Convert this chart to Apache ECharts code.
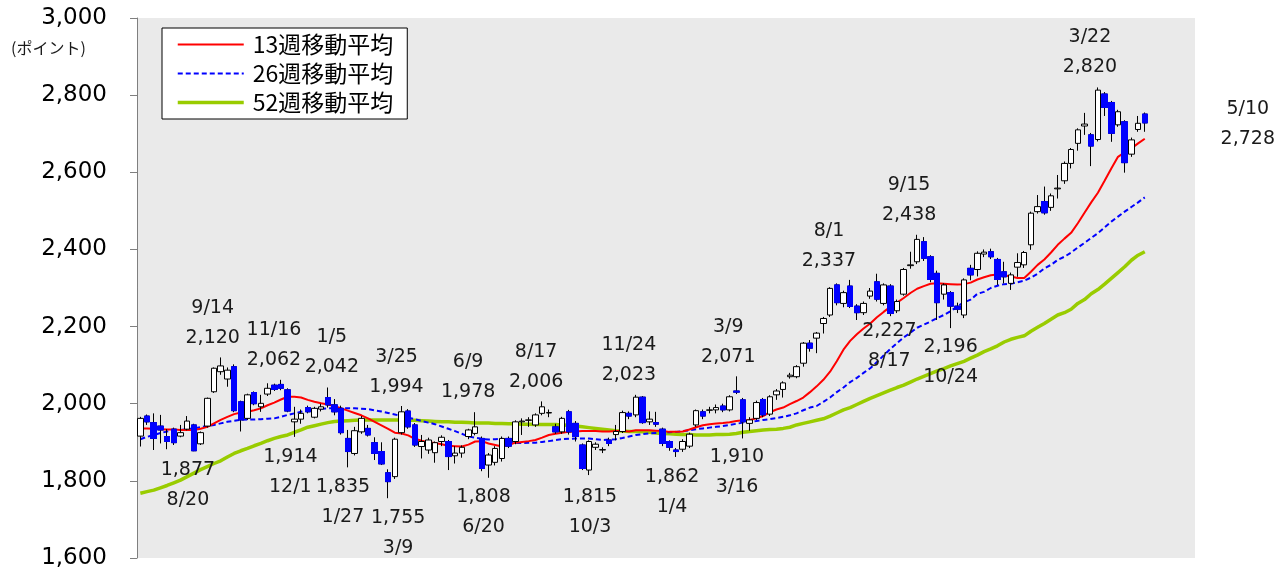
<!DOCTYPE html>
<html><head><meta charset="utf-8">
<script src="https://cdn.jsdelivr.net/npm/echarts@6/dist/echarts.min.js"></script>
<style>html,body{margin:0;padding:0;background:#fff}#c{width:1278px;height:570px}</style>
</head><body><div id="c"></div>
<script>
// ---- data (weekly, first week ending 2021/6/25) ----
const firstWeek = [2021, 6, 25];
const axisWeeks = 158; // category slots on the x axis (data fills the first 151)
const opens = [
1916,1968,1951,1942,1915,1934,1916,1934,1945,1896,
1942,2031,2083,2064,2096,2005,1962,2029,1992,2025,
2048,2050,2036,1953,1960,1990,1965,1986,2016,1997,
1988,1910,1871,1927,1936,1899,1876,1821,1811,1925,
1981,1945,1889,1880,1873,1902,1902,1865,1872,1915,
1923,1910,1841,1848,1858,1910,1902,1953,1957,1945,
1975,1976,1940,1927,1979,1949,1893,1828,1887,1880,
1906,1920,1928,1975,1971,2017,1953,1951,1934,1902,
1880,1882,1890,1945,1979,1983,1984,1994,1984,2033,
2010,1949,1962,2011,1973,2023,2037,2070,2070,2105,
2157,2170,2208,2230,2308,2260,2305,2253,2236,2279,
2316,2260,2305,2241,2284,2358,2368,2420,2381,2338,
2284,2288,2253,2230,2351,2348,2388,2394,2374,2342,
2312,2354,2360,2412,2498,2524,2509,2557,2578,2623,
2675,2720,2697,2685,2803,2781,2723,2731,2647,2711,
2751];
const closes = [
1962,1953,1910,1932,1902,1899,1925,1955,1878,1925,
2014,2092,2098,2087,1982,1958,2023,2000,2001,2040,
2037,2040,1981,1960,1975,1979,1988,1992,1997,1979,
1925,1876,1930,1962,1919,1871,1844,1798,1908,1979,
1940,1893,1902,1906,1899,1913,1863,1872,1887,1932,
1940,1832,1867,1884,1910,1890,1953,1955,1958,1971,
1992,1977,1927,1962,1927,1915,1832,1902,1895,1881,
1897,1928,1977,1968,2017,1951,1960,1947,1897,1887,
1876,1902,1921,1982,1968,1984,1990,1984,2018,2030,
1953,1958,2003,1971,2018,2033,2054,2074,2096,2157,
2144,2183,2221,2299,2262,2288,2252,2236,2260,2292,
2271,2308,2234,2265,2348,2360,2426,2377,2322,2262,
2308,2253,2245,2321,2334,2390,2393,2381,2322,2329,
2334,2366,2392,2494,2511,2495,2539,2559,2623,2659,
2710,2725,2668,2813,2768,2701,2757,2625,2684,2727,
2728];
const lows = [
1889,1945,1880,1897,1882,1893,1913,1931,1877,1893,
1938,2028,2075,2044,1978,1928,1958,1996,1979,2020,
2033,2035,1978,1914,1948,1975,1962,1980,1990,1970,
1920,1835,1866,1922,1915,1854,1841,1755,1805,1920,
1935,1888,1858,1870,1847,1890,1828,1845,1860,1908,
1918,1825,1808,1840,1850,1885,1895,1919,1940,1940,
1970,1965,1922,1922,1920,1902,1828,1815,1880,1872,
1890,1905,1924,1960,1965,1948,1945,1940,1890,1878,
1862,1875,1885,1940,1960,1975,1975,1978,1980,2025,
1910,1930,1958,1965,1968,2010,2016,2065,2066,2096,
2135,2131,2182,2225,2255,2250,2248,2217,2230,2272,
2265,2255,2227,2235,2280,2350,2362,2370,2315,2217,
2270,2196,2235,2222,2320,2330,2380,2375,2308,2312,
2295,2329,2352,2399,2493,2490,2500,2532,2570,2610,
2656,2697,2616,2680,2746,2679,2718,2599,2640,2705,
2705];
const highs = [
1966,1972,1975,1971,1934,1938,1945,1968,1948,1928,
2016,2094,2120,2094,2102,2008,2026,2032,2023,2053,
2052,2062,2040,1992,1985,1995,1992,2000,2042,2012,
1995,1932,1940,1968,1945,1913,1900,1830,1912,1994,
1986,1950,1919,1912,1902,1918,1906,1890,1892,1935,
1978,1915,1872,1890,1915,1915,1957,1962,1965,1975,
2006,1985,1948,1966,1984,1955,1897,1905,1900,1887,
1912,1945,1982,1980,2023,2020,1980,1979,1938,1905,
1885,1908,1925,1985,1985,1992,1998,2000,2022,2071,
2015,1965,2008,2015,2022,2038,2058,2080,2100,2160,
2165,2186,2225,2302,2312,2293,2321,2258,2265,2300,
2337,2312,2310,2270,2352,2394,2438,2432,2385,2345,
2312,2292,2262,2325,2360,2395,2400,2402,2378,2368,
2340,2390,2396,2498,2541,2563,2545,2593,2628,2663,
2714,2754,2702,2820,2808,2785,2762,2735,2690,2746,
2755];
const ma13 = [
1936,1936,1935,1934,1933,1933,1932,1932,1932,1935,
1940,1949,1958,1966,1973,1977,1979,1983,1988,1996,
2003,2011,2018,2018,2016,2010,2005,2001,1998,1994,
1988,1982,1976,1970,1962,1953,1944,1935,1925,1923,
1918,1909,1904,1900,1898,1895,1891,1890,1889,1894,
1902,1903,1897,1893,1889,1893,1899,1901,1903,1906,
1912,1919,1922,1925,1927,1928,1929,1929,1929,1928,
1928,1929,1929,1928,1931,1931,1931,1930,1929,1927,
1927,1928,1933,1939,1944,1947,1949,1950,1952,1955,
1957,1958,1962,1968,1978,1985,1990,1999,2007,2016,
2030,2045,2062,2083,2110,2140,2163,2180,2195,2208,
2224,2238,2251,2262,2274,2287,2298,2305,2311,2312,
2311,2310,2309,2310,2314,2322,2328,2333,2335,2333,
2330,2326,2326,2342,2360,2374,2392,2412,2428,2443,
2468,2495,2522,2547,2578,2610,2640,2652,2662,2675,
2687];
const ma26 = [
1908,1914,1919,1924,1928,1930,1932,1934,1936,1939,
1942,1945,1949,1953,1956,1958,1959,1959,1960,1961,
1962,1966,1971,1975,1979,1984,1986,1987,1988,1988,
1988,1988,1988,1987,1986,1983,1980,1976,1972,1968,
1964,1960,1955,1951,1947,1941,1935,1929,1922,1915,
1912,1909,1907,1908,1909,1904,1898,1898,1899,1899,
1901,1903,1906,1908,1909,1910,1910,1910,1908,1906,
1907,1908,1911,1915,1919,1921,1923,1924,1925,1926,
1927,1929,1931,1934,1936,1938,1940,1942,1945,1948,
1951,1953,1955,1958,1960,1963,1966,1970,1975,1983,
1990,1994,2005,2016,2030,2042,2056,2067,2080,2092,
2108,2125,2142,2157,2172,2184,2197,2205,2213,2222,
2230,2240,2252,2263,2270,2285,2290,2300,2306,2310,
2311,2315,2319,2327,2337,2351,2360,2373,2381,2392,
2405,2417,2430,2442,2457,2472,2485,2498,2510,2522,
2535];
const ma52 = [
1768,1772,1776,1782,1788,1795,1802,1811,1820,1829,
1837,1845,1852,1862,1871,1878,1884,1891,1897,1904,
1910,1915,1919,1926,1932,1939,1943,1947,1951,1954,
1955,1956,1957,1958,1958,1958,1958,1958,1958,1958,
1957,1957,1956,1955,1954,1953,1953,1952,1952,1951,
1950,1950,1950,1949,1949,1948,1948,1947,1947,1946,
1946,1946,1946,1945,1944,1942,1940,1938,1936,1934,
1932,1930,1929,1928,1928,1927,1926,1924,1923,1922,
1921,1920,1920,1919,1919,1919,1920,1920,1921,1923,
1926,1928,1930,1932,1933,1934,1936,1939,1945,1949,
1953,1957,1961,1968,1976,1984,1990,1998,2006,2014,
2021,2028,2035,2042,2048,2056,2064,2071,2078,2085,
2091,2098,2104,2110,2118,2126,2135,2142,2150,2160,
2167,2172,2176,2188,2198,2208,2219,2230,2236,2245,
2260,2270,2285,2296,2310,2325,2340,2355,2372,2385,
2394];
const maNames = ['13週移動平均', '26週移動平均', '52週移動平均'];
const yMin = 1600, yMax = 3000, yStep = 200;
const unitLabel = '(ポイント)';
// annotations: week index, value, date text, kind (high labels: date over value; low labels: value over date)
const annWeek  = [12, 21, 28, 39, 50, 60, 74, 89, 110, 116, 143, 150, 8, 23, 31, 37, 52, 67, 80, 90, 112, 121];
const annValue = [2120, 2062, 2042, 1994, 1978, 2006, 2023, 2071, 2337, 2438, 2820, 2728, 1877, 1914, 1835, 1755, 1808, 1815, 1862, 1910, 2227, 2196];
const annDate  = ['9/14','11/16','1/5','3/25','6/9','8/17','11/24','3/9','8/1','9/15','3/22','5/10','8/20','12/1','1/27','3/9','6/20','10/3','1/4','3/16','8/17','10/24'];
const annKind  = ['H','H','H','H','H','H','H','H','H','H','H','H','L','L','L','L','L','L','L','L','L','L'];

// ---- layout / style (pixel offsets of the annotation text blocks) ----
const annOffset = [[-8,-34],[-7,-35],[4,-35],[-5,-34],[-7,-35],[-6,-34],[-7,-35],[-8,-34],[-48,-28],[-8,-35],[-8,-35],[103,1],
                   [-6,34],[-4,35],[-5,35],[10,35],[-5,34],[1,37],[-4,35],[-6,34],[-1,30],[0,34]];
const maColors = ['#ff0000', '#0000ff', '#99cc00'];
const maWidths = [2, 2, 3.5];

const fmt = v => String(v).replace(/\B(?=(\d{3})+(?!\d))/g, ',');
const cats = [];
{
  const d = new Date(firstWeek[0], firstWeek[1]-1, firstWeek[2]);
  for (let i = 0; i < axisWeeks; i++) {
    const t = new Date(d.getTime() + i*7*86400000);
    cats.push(t.getFullYear() + '/' + (t.getMonth()+1) + '/' + t.getDate());
  }
}
const candles = opens.map((o,i) => [o, closes[i], lows[i], highs[i]]);
const downBodies = opens.map((o,i) => closes[i] < o ? [o, closes[i], closes[i], o] : '-');

const markData = annWeek.map((w,k) => ({
  coord: [w, annValue[k]],
  label: {
    offset: annOffset[k],
    formatter: annKind[k] === 'H' ? annDate[k] + '\n' + fmt(annValue[k]) : fmt(annValue[k]) + '\n' + annDate[k]
  }
}));

const chart = echarts.init(document.getElementById('c'), null, {renderer: 'canvas'});
chart.setOption({
  animation: false,
  backgroundColor: '#ffffff',
  title: {
    text: unitLabel, left: 6, top: 35,
    textStyle: {fontSize: 16, fontWeight: 'normal', color: '#1a1a1a', fontFamily: '"Noto Sans CJK JP", sans-serif'}
  },
  grid: {left: 137, right: 83, top: 18, bottom: 12, show: true, backgroundColor: '#eaeaea', borderWidth: 0},
  legend: {
    data: maNames.map((n,k) => ({name: n, lineStyle: {width: maWidths[k], color: maColors[k]}})),
    orient: 'vertical', left: 162, top: 28,
    itemWidth: 66, itemHeight: 14, itemGap: 6,
    padding: [5, 14, 5, 14],
    itemStyle: {opacity: 0},
    backgroundColor: '#ffffff', borderColor: '#000000', borderWidth: 1,
    textStyle: {fontSize: 23, lineHeight: 23, color: '#000', fontFamily: '"Noto Sans CJK JP", sans-serif', padding: [0,0,0,4]}
  },
  xAxis: {
    type: 'category', data: cats, boundaryGap: true,
    axisLine: {show: false}, axisTick: {show: false}, axisLabel: {show: false}, splitLine: {show: false}
  },
  yAxis: {
    type: 'value', min: yMin, max: yMax, interval: yStep,
    axisLine: {show: true, lineStyle: {color: '#7f7f7f', width: 1}},
    axisTick: {show: true, length: 7, lineStyle: {color: '#7f7f7f'}},
    splitLine: {show: false},
    axisLabel: {formatter: fmt, fontSize: 23, color: '#000', margin: 30, fontFamily: '"DejaVu Sans", sans-serif'}
  },
  series: [
    {name: maNames[2], type: 'line', data: ma52, symbol: 'none', z: 2,
     lineStyle: {color: maColors[2], width: maWidths[2]}, itemStyle: {color: maColors[2]}},
    {name: maNames[1], type: 'line', data: ma26, symbol: 'none', z: 2,
     lineStyle: {color: maColors[1], width: maWidths[1], type: [5, 3]}, itemStyle: {color: maColors[1]}},
    {name: maNames[0], type: 'line', data: ma13, symbol: 'none', z: 2,
     lineStyle: {color: maColors[0], width: maWidths[0]}, itemStyle: {color: maColors[0]}},
    {name: 'candles', type: 'candlestick', data: candles, barWidth: 6, z: 3,
     itemStyle: {color: '#ffffff', color0: '#0000ff', borderColor: '#000000', borderColor0: '#000000', borderWidth: 1},
     markPoint: {
       symbol: 'circle', symbolSize: 1, itemStyle: {color: 'rgba(0,0,0,0)'},
       label: {show: true, position: 'inside', fontSize: 19, lineHeight: 30, color: '#1a1a1a', fontFamily: '"DejaVu Sans", sans-serif'},
       data: markData
     }},
    {name: 'downBodies', type: 'candlestick', data: downBodies, barWidth: 6, z: 4,
     itemStyle: {color: '#0000ff', color0: '#0000ff', borderColor: '#0000ff', borderColor0: '#0000ff', borderWidth: 1}}
  ]
});
</script>
</body></html>
